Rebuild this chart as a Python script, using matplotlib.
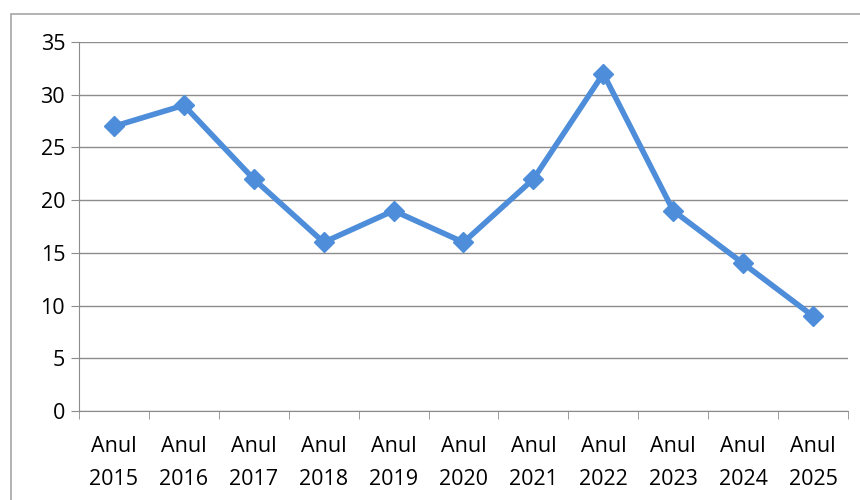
import matplotlib.pyplot as plt
from matplotlib.patches import Rectangle

plt.rcParams['font.family'] = ['Open Sans', 'DejaVu Sans']

# Data
years = ['2015', '2016', '2017', '2018', '2019', '2020', '2021', '2022', '2023', '2024', '2025']
values = [27, 29, 22, 16, 19, 16, 22, 32, 19, 14, 9]
labels = ['Anul\n' + y for y in years]

fig = plt.figure(figsize=(8.6, 5), dpi=100)
fig.patches.append(Rectangle((11 / 860, -0.05), 1.0, 1 - 14 / 500 + 0.05,
                             transform=fig.transFigure, fill=False,
                             edgecolor='#a6a6a6', linewidth=1.2))
ax = fig.add_axes([79 / 860, 89 / 500, 769 / 860, 369 / 500])

x = list(range(len(years)))
ax.plot(x, values, color='#4d8dd9', linewidth=4, marker='D', markersize=10,
        markerfacecolor='#4d8dd9', markeredgecolor='#4d8dd9', zorder=3)

ax.set_xlim(-0.5, len(years) - 0.5)
ax.set_ylim(0, 35)
ax.set_yticks(range(0, 36, 5))
ax.yaxis.grid(True, color='#8c8c8c', linewidth=1)
ax.set_axisbelow(True)

ax.set_xticks(x)
ax.set_xticklabels(labels, fontsize=15.5, linespacing=1.75)
ax.set_xticks([i - 0.5 for i in range(len(years) + 1)], minor=True)
ax.tick_params(axis='x', which='major', length=0, pad=18)
ax.tick_params(axis='x', which='minor', length=6, color='#8c8c8c', direction='out')
ax.tick_params(axis='y', length=6, color='#8c8c8c', labelsize=15.5, pad=4)

for s in ['top', 'right']:
    ax.spines[s].set_visible(False)
for s in ['left', 'bottom']:
    ax.spines[s].set_color('#8c8c8c')

plt.savefig('out.png', dpi=100)
